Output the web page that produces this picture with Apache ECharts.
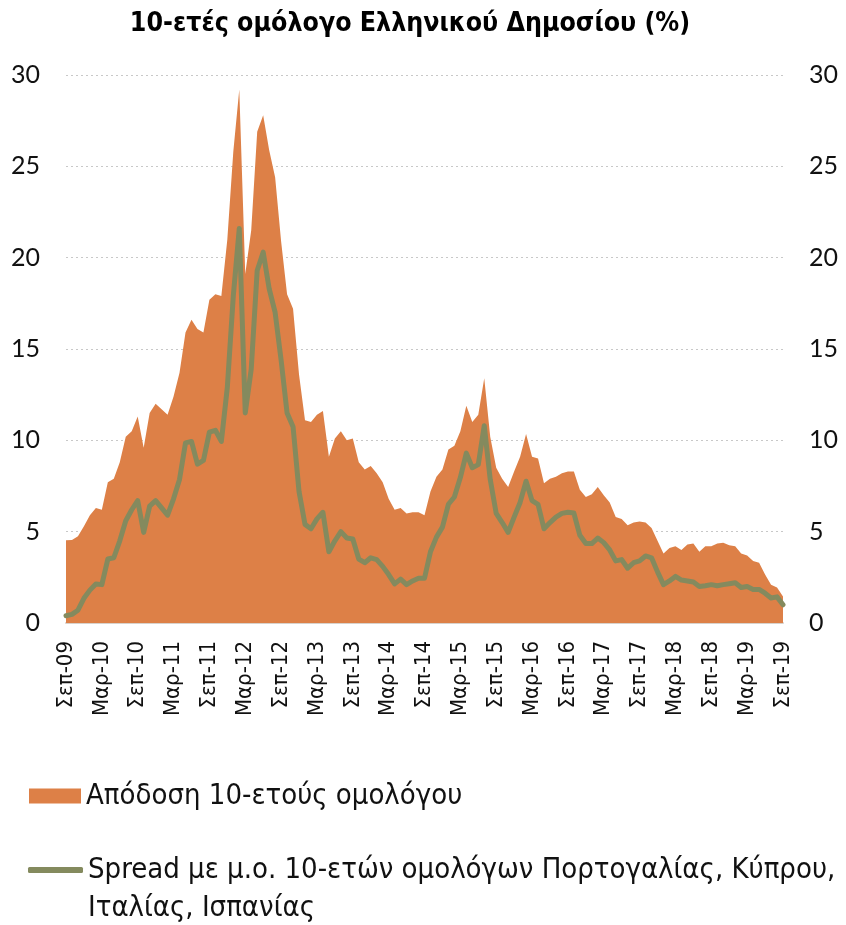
<!DOCTYPE html>
<html>
<head>
<meta charset="utf-8">
<script src="https://cdn.jsdelivr.net/npm/echarts@6/dist/echarts.min.js"></script>
<style>
  html, body { margin: 0; padding: 0; background: #fff; }
  #chart1 { width: 846px; height: 925px; }
</style>
</head>
<body>
<div id="chart1"></div>
<script>
    // μήνες Σεπ-09 ... Σεπ-19
    var months = ['Ιαν','Φεβ','Μαρ','Απρ','Μαϊ','Ιουν','Ιουλ','Αυγ','Σεπ','Οκτ','Νοε','Δεκ'];
    var categories = [];
    for (var k = 0; k <= 120; k++) {
        var m = (8 + k) % 12;
        var y = 9 + Math.floor((8 + k) / 12);
        categories.push(months[m] + '-' + (y < 10 ? '0' + y : y));
    }

    var yAxisTicks = [0, 5, 10, 15, 20, 25, 30];

    // Απόδοση 10-ετούς ομολόγου (%)
    var yieldValues = [
        4.53, 4.55, 4.75, 5.3, 5.9, 6.3, 6.2, 7.7, 7.9, 8.8,
        10.2, 10.5, 11.3, 9.6, 11.5, 12.0, 11.7, 11.4, 12.4, 13.7,
        15.9, 16.6, 16.1, 15.9, 17.7, 18.0, 17.9, 21.0, 25.8, 29.2,
        19.1, 21.5, 26.9, 27.8, 25.9, 24.4, 20.9, 18.0, 17.2, 13.6,
        11.1, 11.0, 11.4, 11.6, 9.1, 10.1, 10.5, 10.0, 10.1, 8.8,
        8.4, 8.6, 8.2, 7.7, 6.8, 6.2, 6.3, 6.0, 6.06, 6.06,
        5.9, 7.2, 8.0, 8.4, 9.5, 9.7, 10.5, 11.9, 11.0, 11.4,
        13.4, 10.2, 8.5, 7.9, 7.45, 8.3, 9.1, 10.35, 9.1, 9.0,
        7.65, 7.9, 8.0, 8.2, 8.3, 8.3, 7.3, 6.9, 7.05, 7.45,
        7.0, 6.6, 5.8, 5.7, 5.35, 5.5, 5.55, 5.5, 5.2, 4.5,
        3.8, 4.1, 4.2, 4.0, 4.3, 4.35, 3.9, 4.2, 4.2, 4.35,
        4.4, 4.25, 4.2, 3.8, 3.7, 3.4, 3.3, 2.65, 2.1, 1.95,
        1.45
    ];

    // Spread με μ.ο. Πορτογαλίας, Κύπρου, Ιταλίας, Ισπανίας
    var spreadValues = [
        0.4, 0.47, 0.7, 1.35, 1.8, 2.14, 2.1, 3.5, 3.57, 4.5,
        5.6, 6.2, 6.7, 4.96, 6.4, 6.7, 6.3, 5.9, 6.8, 7.86,
        9.86, 9.94, 8.7, 8.9, 10.45, 10.55, 9.94, 12.9, 17.9, 21.6,
        11.5, 13.9, 19.3, 20.3, 18.3, 17.0, 14.4, 11.5, 10.75, 7.2,
        5.4, 5.16, 5.7, 6.06, 3.9, 4.5, 5.0, 4.65, 4.6, 3.5,
        3.3, 3.57, 3.47, 3.1, 2.65, 2.14, 2.4, 2.1, 2.3, 2.45,
        2.45, 3.9, 4.7, 5.25, 6.5, 6.9, 7.96, 9.3, 8.5, 8.67,
        10.8, 7.86, 6.0, 5.5, 4.96, 5.8, 6.6, 7.76, 6.7, 6.5,
        5.16, 5.5, 5.8, 6.0, 6.06, 6.02, 4.8, 4.35, 4.35, 4.65,
        4.4, 4.0, 3.4, 3.47, 3.0, 3.3, 3.4, 3.67, 3.57, 2.8,
        2.1, 2.3, 2.55, 2.35, 2.3, 2.24, 2.0, 2.04, 2.1, 2.04,
        2.1, 2.15, 2.2, 1.94, 2.0, 1.84, 1.84, 1.63, 1.37, 1.43,
        1.0
    ];

    var yieldName = 'Απόδοση 10-ετούς ομολόγου';
    var spreadName = 'Spread με μ.ο. 10-ετών ομολόγων Πορτογαλίας, Κύπρου, Ιταλίας, Ισπανίας';

    var narrowFont = "'Liberation Sans Narrow', 'DejaVu Sans Condensed', 'Open Sans', sans-serif";
    var tickFont = "'Lato', 'DejaVu Sans', sans-serif";

    var yAxisBase = function (pos) {
        return {
            type: 'value',
            position: pos,
            min: yAxisTicks[0],
            max: yAxisTicks[yAxisTicks.length - 1],
            interval: 5,
            axisLine: { show: false },
            axisTick: { show: false },
            axisLabel: {
                color: '#111',
                fontSize: 25,
                fontFamily: tickFont,
                margin: 26
            },
            splitLine: {
                show: pos === 'left',
                lineStyle: { color: '#c8c8c8', type: [2, 3], width: 1 }
            }
        };
    };

    var legendText = {
        color: '#111',
        fontSize: 29,
        lineHeight: 38,
        fontFamily: narrowFont
    };

    var option = {
        animation: false,
        title: {
            text: '10-ετές ομόλογο Ελληνικού Δημοσίου (%)',
            left: 405,
            textAlign: 'center',
            top: 6,
            textStyle: {
                color: '#000',
                fontSize: 26.5,
                fontWeight: 'bold',
                fontFamily: narrowFont
            }
        },
        legend: [{
            left: 29,
            top: 777,
            padding: 0,
            itemWidth: 52,
            itemHeight: 15,
            data: [{ name: yieldName, icon: 'rect' }],
            textStyle: legendText
        }, {
            left: 28,
            top: 813,
            padding: 0,
            itemWidth: 55,
            itemHeight: 6,
            data: [{ name: spreadName, icon: 'roundRect', itemStyle: { color: '#848a5e' } }],
            formatter: function () {
                // κενή πρώτη γραμμή ώστε το σύμβολο να ευθυγραμμίζεται με την πρώτη γραμμή κειμένου
                return ' \nSpread με μ.ο. 10-ετών ομολόγων Πορτογαλίας, Κύπρου,\nΙταλίας, Ισπανίας';
            },
            textStyle: legendText
        }],
        grid: {
            left: 66,
            right: 63,
            top: 75,
            bottom: 302,
            containLabel: false
        },
        xAxis: {
            type: 'category',
            boundaryGap: false,
            data: categories,
            axisLine: { lineStyle: { color: '#d8d2cc', width: 2 } },
            axisTick: { show: false },
            axisLabel: {
                rotate: 90,
                interval: 5,
                margin: 18,
                color: '#111',
                fontSize: 22,
                fontFamily: narrowFont
            },
            splitLine: { show: false }
        },
        yAxis: [yAxisBase('left'), yAxisBase('right')],
        series: [{
            name: yieldName,
            type: 'line',
            data: yieldValues,
            symbol: 'none',
            lineStyle: { width: 0 },
            itemStyle: { color: '#dd8047' },
            areaStyle: { color: '#dd8047', opacity: 1 }
        }, {
            name: spreadName,
            type: 'line',
            data: spreadValues,
            symbol: 'none',
            lineStyle: { color: '#848a5e', width: 5, join: 'round', cap: 'round' },
            itemStyle: { color: '#848a5e' }
        }]
    };

    var myChart = echarts.init(document.getElementById('chart1'));
    myChart.setOption(option);
</script>
</body>
</html>
